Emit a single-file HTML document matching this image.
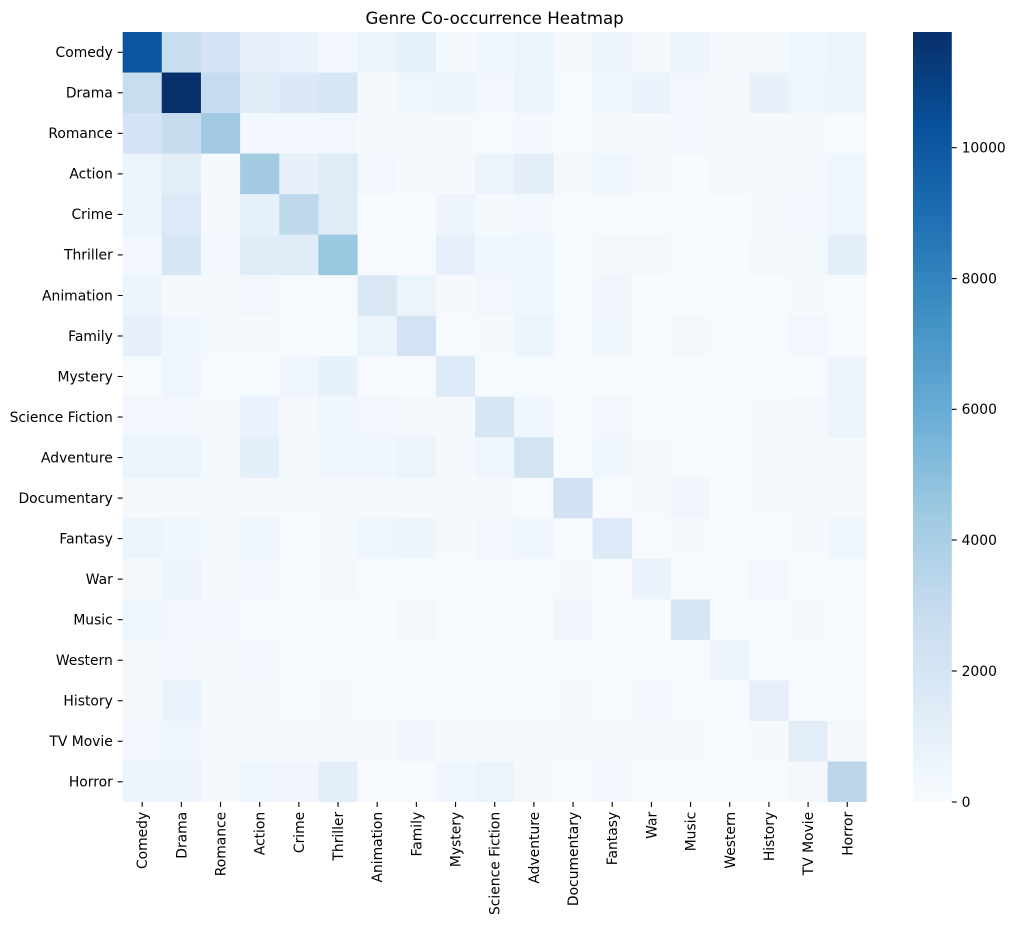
<!DOCTYPE html>
<html><head><meta charset="utf-8"><style>
html,body{margin:0;padding:0;background:#fff;}
svg{display:block;font-family:"DejaVu Sans","Liberation Sans",sans-serif;}
</style></head><body>
<svg width="1015" height="925" viewBox="0 0 1015 925" xmlns="http://www.w3.org/2000/svg">
<defs>
<linearGradient id="cb" x1="0" y1="1" x2="0" y2="0">
<stop offset="0" stop-color="#f7fbff"/><stop offset="0.125" stop-color="#deebf7"/><stop offset="0.25" stop-color="#c6dbef"/><stop offset="0.375" stop-color="#9ecae1"/><stop offset="0.5" stop-color="#6baed6"/><stop offset="0.625" stop-color="#4292c6"/><stop offset="0.75" stop-color="#2171b5"/><stop offset="0.875" stop-color="#08519c"/><stop offset="1" stop-color="#08306b"/>
</linearGradient>
</defs>
<rect width="1015" height="925" fill="#fff"/>
<text x="494.6" y="24" font-size="16.67" text-anchor="middle" fill="#000">Genre Co-occurrence Heatmap</text>
<svg x="122.6" y="32" width="744.2" height="770" viewBox="0 0 19 19" preserveAspectRatio="none">
<g transform="translate(0,0)"><rect x="0" width="1.01" height="1.01" fill="#0b559f"/><rect x="1" width="1.01" height="1.01" fill="#c9ddf0"/><rect x="2" width="1.01" height="1.01" fill="#d4e4f4"/><rect x="3" width="1.01" height="1.01" fill="#e8f1fa"/><rect x="4" width="1.01" height="1.01" fill="#eaf2fb"/><rect x="5" width="1.01" height="1.01" fill="#f2f7fd"/><rect x="6" width="1.01" height="1.01" fill="#ecf4fb"/><rect x="7" width="1.01" height="1.01" fill="#e6f0f9"/><rect x="8" width="1.01" height="1.01" fill="#f4f9fe"/><rect x="9" width="1.01" height="1.01" fill="#f0f6fd"/><rect x="10" width="1.01" height="1.01" fill="#ebf3fb"/><rect x="11" width="1.01" height="1.01" fill="#f5f9fe"/><rect x="12" width="1.01" height="1.01" fill="#edf4fc"/><rect x="13" width="1.01" height="1.01" fill="#f4f9fe"/><rect x="14" width="1.01" height="1.01" fill="#edf4fc"/><rect x="15" width="1.01" height="1.01" fill="#f4f9fe"/><rect x="16" width="1.01" height="1.01" fill="#f4f9fe"/><rect x="17" width="1.01" height="1.01" fill="#eff6fd"/><rect x="18" width="1.01" height="1.01" fill="#ebf3fb"/></g>
<g transform="translate(0,1)"><rect x="0" width="1.01" height="1.01" fill="#c9ddf0"/><rect x="1" width="1.01" height="1.01" fill="#08306b"/><rect x="2" width="1.01" height="1.01" fill="#c6dbef"/><rect x="3" width="1.01" height="1.01" fill="#e0ecf8"/><rect x="4" width="1.01" height="1.01" fill="#dbe9f6"/><rect x="5" width="1.01" height="1.01" fill="#d6e6f4"/><rect x="6" width="1.01" height="1.01" fill="#f5f9fe"/><rect x="7" width="1.01" height="1.01" fill="#eef5fc"/><rect x="8" width="1.01" height="1.01" fill="#edf4fc"/><rect x="9" width="1.01" height="1.01" fill="#f2f7fd"/><rect x="10" width="1.01" height="1.01" fill="#ebf3fb"/><rect x="11" width="1.01" height="1.01" fill="#f5fafe"/><rect x="12" width="1.01" height="1.01" fill="#f0f6fd"/><rect x="13" width="1.01" height="1.01" fill="#eaf3fb"/><rect x="14" width="1.01" height="1.01" fill="#f2f7fd"/><rect x="15" width="1.01" height="1.01" fill="#f5f8fd"/><rect x="16" width="1.01" height="1.01" fill="#e8f1fa"/><rect x="17" width="1.01" height="1.01" fill="#eef5fc"/><rect x="18" width="1.01" height="1.01" fill="#edf5fc"/></g>
<g transform="translate(0,2)"><rect x="0" width="1.01" height="1.01" fill="#d4e4f4"/><rect x="1" width="1.01" height="1.01" fill="#c8dcf0"/><rect x="2" width="1.01" height="1.01" fill="#a1cae2"/><rect x="3" width="1.01" height="1.01" fill="#f2f8fe"/><rect x="4" width="1.01" height="1.01" fill="#f3f8fe"/><rect x="5" width="1.01" height="1.01" fill="#f2f7fd"/><rect x="6" width="1.01" height="1.01" fill="#f4f9fe"/><rect x="7" width="1.01" height="1.01" fill="#f5f9fe"/><rect x="8" width="1.01" height="1.01" fill="#f4f9fe"/><rect x="9" width="1.01" height="1.01" fill="#f6fafe"/><rect x="10" width="1.01" height="1.01" fill="#f3f8fe"/><rect x="11" width="1.01" height="1.01" fill="#f6fafe"/><rect x="12" width="1.01" height="1.01" fill="#f4f9fe"/><rect x="13" width="1.01" height="1.01" fill="#f4f9fe"/><rect x="14" width="1.01" height="1.01" fill="#f2f7fd"/><rect x="15" width="1.01" height="1.01" fill="#f5f9fe"/><rect x="16" width="1.01" height="1.01" fill="#f5f9fe"/><rect x="17" width="1.01" height="1.01" fill="#f5f9fe"/><rect x="18" width="1.01" height="1.01" fill="#f5fafe"/></g>
<g transform="translate(0,3)"><rect x="0" width="1.01" height="1.01" fill="#ebf3fb"/><rect x="1" width="1.01" height="1.01" fill="#e2edf8"/><rect x="2" width="1.01" height="1.01" fill="#f5f9fe"/><rect x="3" width="1.01" height="1.01" fill="#a3cbe2"/><rect x="4" width="1.01" height="1.01" fill="#e8f1fa"/><rect x="5" width="1.01" height="1.01" fill="#dfebf7"/><rect x="6" width="1.01" height="1.01" fill="#f2f7fd"/><rect x="7" width="1.01" height="1.01" fill="#f4f9fe"/><rect x="8" width="1.01" height="1.01" fill="#f5f9fe"/><rect x="9" width="1.01" height="1.01" fill="#ebf3fb"/><rect x="10" width="1.01" height="1.01" fill="#e3eef8"/><rect x="11" width="1.01" height="1.01" fill="#f4f8fd"/><rect x="12" width="1.01" height="1.01" fill="#f0f6fd"/><rect x="13" width="1.01" height="1.01" fill="#f3f8fd"/><rect x="14" width="1.01" height="1.01" fill="#f6fafe"/><rect x="15" width="1.01" height="1.01" fill="#f3f7fb"/><rect x="16" width="1.01" height="1.01" fill="#f4f8fd"/><rect x="17" width="1.01" height="1.01" fill="#f3f8fd"/><rect x="18" width="1.01" height="1.01" fill="#f0f6fd"/></g>
<g transform="translate(0,4)"><rect x="0" width="1.01" height="1.01" fill="#ebf3fb"/><rect x="1" width="1.01" height="1.01" fill="#dce9f6"/><rect x="2" width="1.01" height="1.01" fill="#f4f9fe"/><rect x="3" width="1.01" height="1.01" fill="#e7f1fa"/><rect x="4" width="1.01" height="1.01" fill="#bed8ec"/><rect x="5" width="1.01" height="1.01" fill="#dfebf7"/><rect x="6" width="1.01" height="1.01" fill="#f6fafe"/><rect x="7" width="1.01" height="1.01" fill="#f6fafe"/><rect x="8" width="1.01" height="1.01" fill="#edf4fc"/><rect x="9" width="1.01" height="1.01" fill="#f4f9fe"/><rect x="10" width="1.01" height="1.01" fill="#f3f8fe"/><rect x="11" width="1.01" height="1.01" fill="#f5fafe"/><rect x="12" width="1.01" height="1.01" fill="#f5fafe"/><rect x="13" width="1.01" height="1.01" fill="#f5fafe"/><rect x="14" width="1.01" height="1.01" fill="#f5fafe"/><rect x="15" width="1.01" height="1.01" fill="#f5fafe"/><rect x="16" width="1.01" height="1.01" fill="#f4f9fe"/><rect x="17" width="1.01" height="1.01" fill="#f3f8fe"/><rect x="18" width="1.01" height="1.01" fill="#f0f6fd"/></g>
<g transform="translate(0,5)"><rect x="0" width="1.01" height="1.01" fill="#f2f7fd"/><rect x="1" width="1.01" height="1.01" fill="#d7e6f5"/><rect x="2" width="1.01" height="1.01" fill="#f3f8fe"/><rect x="3" width="1.01" height="1.01" fill="#e0ecf8"/><rect x="4" width="1.01" height="1.01" fill="#e0ecf8"/><rect x="5" width="1.01" height="1.01" fill="#9ac8e0"/><rect x="6" width="1.01" height="1.01" fill="#f6fafe"/><rect x="7" width="1.01" height="1.01" fill="#f6fafe"/><rect x="8" width="1.01" height="1.01" fill="#e7f0fa"/><rect x="9" width="1.01" height="1.01" fill="#f0f6fd"/><rect x="10" width="1.01" height="1.01" fill="#f0f6fd"/><rect x="11" width="1.01" height="1.01" fill="#f5fafe"/><rect x="12" width="1.01" height="1.01" fill="#f3f8fd"/><rect x="13" width="1.01" height="1.01" fill="#f4f8fd"/><rect x="14" width="1.01" height="1.01" fill="#f5fafe"/><rect x="15" width="1.01" height="1.01" fill="#f5fafe"/><rect x="16" width="1.01" height="1.01" fill="#f4f8fd"/><rect x="17" width="1.01" height="1.01" fill="#f3f8fd"/><rect x="18" width="1.01" height="1.01" fill="#e3eef8"/></g>
<g transform="translate(0,6)"><rect x="0" width="1.01" height="1.01" fill="#edf4fc"/><rect x="1" width="1.01" height="1.01" fill="#f5f9fe"/><rect x="2" width="1.01" height="1.01" fill="#f5f9fe"/><rect x="3" width="1.01" height="1.01" fill="#f2f7fd"/><rect x="4" width="1.01" height="1.01" fill="#f6fafe"/><rect x="5" width="1.01" height="1.01" fill="#f6fafe"/><rect x="6" width="1.01" height="1.01" fill="#dae8f5"/><rect x="7" width="1.01" height="1.01" fill="#ecf4fb"/><rect x="8" width="1.01" height="1.01" fill="#f5f9fe"/><rect x="9" width="1.01" height="1.01" fill="#f2f7fd"/><rect x="10" width="1.01" height="1.01" fill="#eff6fd"/><rect x="11" width="1.01" height="1.01" fill="#f5fafe"/><rect x="12" width="1.01" height="1.01" fill="#f0f6fc"/><rect x="13" width="1.01" height="1.01" fill="#f5fafe"/><rect x="14" width="1.01" height="1.01" fill="#f5fafe"/><rect x="15" width="1.01" height="1.01" fill="#f5fafe"/><rect x="16" width="1.01" height="1.01" fill="#f5fafe"/><rect x="17" width="1.01" height="1.01" fill="#f4f9fe"/><rect x="18" width="1.01" height="1.01" fill="#f5fafe"/></g>
<g transform="translate(0,7)"><rect x="0" width="1.01" height="1.01" fill="#e7f0fa"/><rect x="1" width="1.01" height="1.01" fill="#eff6fd"/><rect x="2" width="1.01" height="1.01" fill="#f4f9fe"/><rect x="3" width="1.01" height="1.01" fill="#f4f9fe"/><rect x="4" width="1.01" height="1.01" fill="#f6fafe"/><rect x="5" width="1.01" height="1.01" fill="#f6fafe"/><rect x="6" width="1.01" height="1.01" fill="#ecf4fb"/><rect x="7" width="1.01" height="1.01" fill="#d3e3f3"/><rect x="8" width="1.01" height="1.01" fill="#f6fafe"/><rect x="9" width="1.01" height="1.01" fill="#f5f9fe"/><rect x="10" width="1.01" height="1.01" fill="#ecf4fb"/><rect x="11" width="1.01" height="1.01" fill="#f6fafe"/><rect x="12" width="1.01" height="1.01" fill="#eff6fc"/><rect x="13" width="1.01" height="1.01" fill="#f6fafe"/><rect x="14" width="1.01" height="1.01" fill="#f4f8fd"/><rect x="15" width="1.01" height="1.01" fill="#f6fafe"/><rect x="16" width="1.01" height="1.01" fill="#f6fafe"/><rect x="17" width="1.01" height="1.01" fill="#f2f7fd"/><rect x="18" width="1.01" height="1.01" fill="#f6fafe"/></g>
<g transform="translate(0,8)"><rect x="0" width="1.01" height="1.01" fill="#f5fafe"/><rect x="1" width="1.01" height="1.01" fill="#eef5fc"/><rect x="2" width="1.01" height="1.01" fill="#f6fafe"/><rect x="3" width="1.01" height="1.01" fill="#f5fafe"/><rect x="4" width="1.01" height="1.01" fill="#eef5fc"/><rect x="5" width="1.01" height="1.01" fill="#e7f1fa"/><rect x="6" width="1.01" height="1.01" fill="#f6fafe"/><rect x="7" width="1.01" height="1.01" fill="#f6fafe"/><rect x="8" width="1.01" height="1.01" fill="#dce9f6"/><rect x="9" width="1.01" height="1.01" fill="#f5fafe"/><rect x="10" width="1.01" height="1.01" fill="#f5fafe"/><rect x="11" width="1.01" height="1.01" fill="#f5fafe"/><rect x="12" width="1.01" height="1.01" fill="#f5fafe"/><rect x="13" width="1.01" height="1.01" fill="#f6fafe"/><rect x="14" width="1.01" height="1.01" fill="#f6fafe"/><rect x="15" width="1.01" height="1.01" fill="#f6fafe"/><rect x="16" width="1.01" height="1.01" fill="#f5fafe"/><rect x="17" width="1.01" height="1.01" fill="#f5fafe"/><rect x="18" width="1.01" height="1.01" fill="#edf4fc"/></g>
<g transform="translate(0,9)"><rect x="0" width="1.01" height="1.01" fill="#f2f7fd"/><rect x="1" width="1.01" height="1.01" fill="#f2f7fd"/><rect x="2" width="1.01" height="1.01" fill="#f5f9fe"/><rect x="3" width="1.01" height="1.01" fill="#eaf3fb"/><rect x="4" width="1.01" height="1.01" fill="#f5f9fe"/><rect x="5" width="1.01" height="1.01" fill="#f0f6fd"/><rect x="6" width="1.01" height="1.01" fill="#f2f7fd"/><rect x="7" width="1.01" height="1.01" fill="#f4f8fd"/><rect x="8" width="1.01" height="1.01" fill="#f5f9fe"/><rect x="9" width="1.01" height="1.01" fill="#d6e6f4"/><rect x="10" width="1.01" height="1.01" fill="#eff6fd"/><rect x="11" width="1.01" height="1.01" fill="#f6fafe"/><rect x="12" width="1.01" height="1.01" fill="#f2f7fd"/><rect x="13" width="1.01" height="1.01" fill="#f6fafe"/><rect x="14" width="1.01" height="1.01" fill="#f6fafe"/><rect x="15" width="1.01" height="1.01" fill="#f6fafe"/><rect x="16" width="1.01" height="1.01" fill="#f5f8fd"/><rect x="17" width="1.01" height="1.01" fill="#f3f8fd"/><rect x="18" width="1.01" height="1.01" fill="#ebf3fb"/></g>
<g transform="translate(0,10)"><rect x="0" width="1.01" height="1.01" fill="#ebf3fb"/><rect x="1" width="1.01" height="1.01" fill="#ebf3fb"/><rect x="2" width="1.01" height="1.01" fill="#f3f8fd"/><rect x="3" width="1.01" height="1.01" fill="#e3eef8"/><rect x="4" width="1.01" height="1.01" fill="#f3f8fd"/><rect x="5" width="1.01" height="1.01" fill="#f0f6fd"/><rect x="6" width="1.01" height="1.01" fill="#eff6fd"/><rect x="7" width="1.01" height="1.01" fill="#ebf3fb"/><rect x="8" width="1.01" height="1.01" fill="#f5f9fe"/><rect x="9" width="1.01" height="1.01" fill="#eef5fc"/><rect x="10" width="1.01" height="1.01" fill="#d2e3f2"/><rect x="11" width="1.01" height="1.01" fill="#f6fafe"/><rect x="12" width="1.01" height="1.01" fill="#f0f7fc"/><rect x="13" width="1.01" height="1.01" fill="#f5f9fe"/><rect x="14" width="1.01" height="1.01" fill="#f6fafe"/><rect x="15" width="1.01" height="1.01" fill="#f5fafe"/><rect x="16" width="1.01" height="1.01" fill="#f4f9fe"/><rect x="17" width="1.01" height="1.01" fill="#f4f9fe"/><rect x="18" width="1.01" height="1.01" fill="#f4f9fe"/></g>
<g transform="translate(0,11)"><rect x="0" width="1.01" height="1.01" fill="#f3f8fd"/><rect x="1" width="1.01" height="1.01" fill="#f4f9fe"/><rect x="2" width="1.01" height="1.01" fill="#f5f9fe"/><rect x="3" width="1.01" height="1.01" fill="#f5f9fe"/><rect x="4" width="1.01" height="1.01" fill="#f5f9fe"/><rect x="5" width="1.01" height="1.01" fill="#f5f9fe"/><rect x="6" width="1.01" height="1.01" fill="#f5f9fe"/><rect x="7" width="1.01" height="1.01" fill="#f5f9fe"/><rect x="8" width="1.01" height="1.01" fill="#f5f9fe"/><rect x="9" width="1.01" height="1.01" fill="#f5f9fe"/><rect x="10" width="1.01" height="1.01" fill="#f6fafe"/><rect x="11" width="1.01" height="1.01" fill="#d2e2f2"/><rect x="12" width="1.01" height="1.01" fill="#f6fafe"/><rect x="13" width="1.01" height="1.01" fill="#f5f9fe"/><rect x="14" width="1.01" height="1.01" fill="#f1f6fd"/><rect x="15" width="1.01" height="1.01" fill="#f6fafe"/><rect x="16" width="1.01" height="1.01" fill="#f4f9fe"/><rect x="17" width="1.01" height="1.01" fill="#f5f9fe"/><rect x="18" width="1.01" height="1.01" fill="#f4f9fe"/></g>
<g transform="translate(0,12)"><rect x="0" width="1.01" height="1.01" fill="#ecf4fb"/><rect x="1" width="1.01" height="1.01" fill="#f0f6fd"/><rect x="2" width="1.01" height="1.01" fill="#f3f8fd"/><rect x="3" width="1.01" height="1.01" fill="#eff5fc"/><rect x="4" width="1.01" height="1.01" fill="#f6fafe"/><rect x="5" width="1.01" height="1.01" fill="#f3f8fd"/><rect x="6" width="1.01" height="1.01" fill="#eff5fc"/><rect x="7" width="1.01" height="1.01" fill="#edf5fa"/><rect x="8" width="1.01" height="1.01" fill="#f5f9fe"/><rect x="9" width="1.01" height="1.01" fill="#f2f7fd"/><rect x="10" width="1.01" height="1.01" fill="#f0f6fd"/><rect x="11" width="1.01" height="1.01" fill="#f6fafe"/><rect x="12" width="1.01" height="1.01" fill="#dde9f6"/><rect x="13" width="1.01" height="1.01" fill="#f6fafe"/><rect x="14" width="1.01" height="1.01" fill="#f4f9fe"/><rect x="15" width="1.01" height="1.01" fill="#f6fafe"/><rect x="16" width="1.01" height="1.01" fill="#f6fafe"/><rect x="17" width="1.01" height="1.01" fill="#f4f9fe"/><rect x="18" width="1.01" height="1.01" fill="#f0f6fd"/></g>
<g transform="translate(0,13)"><rect x="0" width="1.01" height="1.01" fill="#f4f9fe"/><rect x="1" width="1.01" height="1.01" fill="#edf4fc"/><rect x="2" width="1.01" height="1.01" fill="#f5f9fe"/><rect x="3" width="1.01" height="1.01" fill="#f2f7fd"/><rect x="4" width="1.01" height="1.01" fill="#f6fafe"/><rect x="5" width="1.01" height="1.01" fill="#f4f8fd"/><rect x="6" width="1.01" height="1.01" fill="#f6fafe"/><rect x="7" width="1.01" height="1.01" fill="#f6fafe"/><rect x="8" width="1.01" height="1.01" fill="#f6fafe"/><rect x="9" width="1.01" height="1.01" fill="#f6fafe"/><rect x="10" width="1.01" height="1.01" fill="#f5fafe"/><rect x="11" width="1.01" height="1.01" fill="#f4f9fe"/><rect x="12" width="1.01" height="1.01" fill="#f6fafe"/><rect x="13" width="1.01" height="1.01" fill="#eaf2fb"/><rect x="14" width="1.01" height="1.01" fill="#f6fafe"/><rect x="15" width="1.01" height="1.01" fill="#f6fafe"/><rect x="16" width="1.01" height="1.01" fill="#f2f7fd"/><rect x="17" width="1.01" height="1.01" fill="#f6fafe"/><rect x="18" width="1.01" height="1.01" fill="#f6fafe"/></g>
<g transform="translate(0,14)"><rect x="0" width="1.01" height="1.01" fill="#eef5fc"/><rect x="1" width="1.01" height="1.01" fill="#f2f7fd"/><rect x="2" width="1.01" height="1.01" fill="#f2f7fd"/><rect x="3" width="1.01" height="1.01" fill="#f6fafe"/><rect x="4" width="1.01" height="1.01" fill="#f6fafe"/><rect x="5" width="1.01" height="1.01" fill="#f6fafe"/><rect x="6" width="1.01" height="1.01" fill="#f5fafe"/><rect x="7" width="1.01" height="1.01" fill="#f3f8fd"/><rect x="8" width="1.01" height="1.01" fill="#f6fafe"/><rect x="9" width="1.01" height="1.01" fill="#f6fafe"/><rect x="10" width="1.01" height="1.01" fill="#f6fafe"/><rect x="11" width="1.01" height="1.01" fill="#f1f6fd"/><rect x="12" width="1.01" height="1.01" fill="#f6fafe"/><rect x="13" width="1.01" height="1.01" fill="#f6fafe"/><rect x="14" width="1.01" height="1.01" fill="#d6e6f4"/><rect x="15" width="1.01" height="1.01" fill="#f6fafe"/><rect x="16" width="1.01" height="1.01" fill="#f6fafe"/><rect x="17" width="1.01" height="1.01" fill="#f5f9fe"/><rect x="18" width="1.01" height="1.01" fill="#f6fafe"/></g>
<g transform="translate(0,15)"><rect x="0" width="1.01" height="1.01" fill="#f4f9fe"/><rect x="1" width="1.01" height="1.01" fill="#f3f8fe"/><rect x="2" width="1.01" height="1.01" fill="#f4f9fe"/><rect x="3" width="1.01" height="1.01" fill="#f2f7fd"/><rect x="4" width="1.01" height="1.01" fill="#f6fafe"/><rect x="5" width="1.01" height="1.01" fill="#f6fafe"/><rect x="6" width="1.01" height="1.01" fill="#f6fafe"/><rect x="7" width="1.01" height="1.01" fill="#f6fafe"/><rect x="8" width="1.01" height="1.01" fill="#f6fafe"/><rect x="9" width="1.01" height="1.01" fill="#f6fafe"/><rect x="10" width="1.01" height="1.01" fill="#f5fafe"/><rect x="11" width="1.01" height="1.01" fill="#f6fafe"/><rect x="12" width="1.01" height="1.01" fill="#f6fafe"/><rect x="13" width="1.01" height="1.01" fill="#f6fafe"/><rect x="14" width="1.01" height="1.01" fill="#f6fafe"/><rect x="15" width="1.01" height="1.01" fill="#edf4fb"/><rect x="16" width="1.01" height="1.01" fill="#f6fafe"/><rect x="17" width="1.01" height="1.01" fill="#f6fafe"/><rect x="18" width="1.01" height="1.01" fill="#f6fafe"/></g>
<g transform="translate(0,16)"><rect x="0" width="1.01" height="1.01" fill="#f5f9fe"/><rect x="1" width="1.01" height="1.01" fill="#e9f2fb"/><rect x="2" width="1.01" height="1.01" fill="#f5f9fe"/><rect x="3" width="1.01" height="1.01" fill="#f5f9fe"/><rect x="4" width="1.01" height="1.01" fill="#f6fafe"/><rect x="5" width="1.01" height="1.01" fill="#f4f9fe"/><rect x="6" width="1.01" height="1.01" fill="#f6fafe"/><rect x="7" width="1.01" height="1.01" fill="#f6fafe"/><rect x="8" width="1.01" height="1.01" fill="#f6fafe"/><rect x="9" width="1.01" height="1.01" fill="#f6fafe"/><rect x="10" width="1.01" height="1.01" fill="#f6fafe"/><rect x="11" width="1.01" height="1.01" fill="#f5f9fe"/><rect x="12" width="1.01" height="1.01" fill="#f6fafe"/><rect x="13" width="1.01" height="1.01" fill="#f3f8fe"/><rect x="14" width="1.01" height="1.01" fill="#f6fafe"/><rect x="15" width="1.01" height="1.01" fill="#f6fafe"/><rect x="16" width="1.01" height="1.01" fill="#e6eff9"/><rect x="17" width="1.01" height="1.01" fill="#f6fafe"/><rect x="18" width="1.01" height="1.01" fill="#f6fafe"/></g>
<g transform="translate(0,17)"><rect x="0" width="1.01" height="1.01" fill="#f1f7fd"/><rect x="1" width="1.01" height="1.01" fill="#eef5fc"/><rect x="2" width="1.01" height="1.01" fill="#f5f9fe"/><rect x="3" width="1.01" height="1.01" fill="#f4f9fe"/><rect x="4" width="1.01" height="1.01" fill="#f4f9fe"/><rect x="5" width="1.01" height="1.01" fill="#f4f9fe"/><rect x="6" width="1.01" height="1.01" fill="#f5f9fe"/><rect x="7" width="1.01" height="1.01" fill="#f1f6fd"/><rect x="8" width="1.01" height="1.01" fill="#f4f9fe"/><rect x="9" width="1.01" height="1.01" fill="#f4f8fd"/><rect x="10" width="1.01" height="1.01" fill="#f4f8fd"/><rect x="11" width="1.01" height="1.01" fill="#f4f9fe"/><rect x="12" width="1.01" height="1.01" fill="#f5f9fe"/><rect x="13" width="1.01" height="1.01" fill="#f5f9fe"/><rect x="14" width="1.01" height="1.01" fill="#f5f9fe"/><rect x="15" width="1.01" height="1.01" fill="#f6fafe"/><rect x="16" width="1.01" height="1.01" fill="#f5f8fd"/><rect x="17" width="1.01" height="1.01" fill="#e2edf8"/><rect x="18" width="1.01" height="1.01" fill="#f4f8fd"/></g>
<g transform="translate(0,18)"><rect x="0" width="1.01" height="1" fill="#edf4fc"/><rect x="1" width="1.01" height="1" fill="#edf4fc"/><rect x="2" width="1.01" height="1" fill="#f5f9fe"/><rect x="3" width="1.01" height="1" fill="#f0f6fd"/><rect x="4" width="1.01" height="1" fill="#f1f6fd"/><rect x="5" width="1.01" height="1" fill="#e3eef8"/><rect x="6" width="1.01" height="1" fill="#f6fafe"/><rect x="7" width="1.01" height="1" fill="#f6fafe"/><rect x="8" width="1.01" height="1" fill="#eff6fd"/><rect x="9" width="1.01" height="1" fill="#ecf4fb"/><rect x="10" width="1.01" height="1" fill="#f3f8fd"/><rect x="11" width="1.01" height="1" fill="#f6fafe"/><rect x="12" width="1.01" height="1" fill="#f2f7fd"/><rect x="13" width="1.01" height="1" fill="#f6fafe"/><rect x="14" width="1.01" height="1" fill="#f6fafe"/><rect x="15" width="1.01" height="1" fill="#f6fafe"/><rect x="16" width="1.01" height="1" fill="#f6fafe"/><rect x="17" width="1.01" height="1" fill="#f4f8fd"/><rect x="18" width="1" height="1" fill="#bbd6eb"/></g>
</svg>
<!-- y ticks -->
<g stroke="#000" stroke-width="1.1">
<line x1="117.7" x2="122.6" y1="52.27" y2="52.27"/><line x1="117.7" x2="122.6" y1="92.8" y2="92.8"/><line x1="117.7" x2="122.6" y1="133.33" y2="133.33"/><line x1="117.7" x2="122.6" y1="173.86" y2="173.86"/><line x1="117.7" x2="122.6" y1="214.39" y2="214.39"/><line x1="117.7" x2="122.6" y1="254.92" y2="254.92"/><line x1="117.7" x2="122.6" y1="295.45" y2="295.45"/><line x1="117.7" x2="122.6" y1="335.98" y2="335.98"/><line x1="117.7" x2="122.6" y1="376.51" y2="376.51"/><line x1="117.7" x2="122.6" y1="417.04" y2="417.04"/><line x1="117.7" x2="122.6" y1="457.57" y2="457.57"/><line x1="117.7" x2="122.6" y1="498.1" y2="498.1"/><line x1="117.7" x2="122.6" y1="538.63" y2="538.63"/><line x1="117.7" x2="122.6" y1="579.16" y2="579.16"/><line x1="117.7" x2="122.6" y1="619.69" y2="619.69"/><line x1="117.7" x2="122.6" y1="660.22" y2="660.22"/><line x1="117.7" x2="122.6" y1="700.75" y2="700.75"/><line x1="117.7" x2="122.6" y1="741.28" y2="741.28"/><line x1="117.7" x2="122.6" y1="781.81" y2="781.81"/>
</g>
<g font-size="13.89" text-anchor="end" fill="#000">
<text x="112.8" y="57.1">Comedy</text><text x="112.8" y="97.6">Drama</text><text x="112.8" y="138.1">Romance</text><text x="112.8" y="178.7">Action</text><text x="112.8" y="219.2">Crime</text><text x="112.8" y="259.7">Thriller</text><text x="112.8" y="300.3">Animation</text><text x="112.8" y="340.8">Family</text><text x="112.8" y="381.3">Mystery</text><text x="112.8" y="421.8">Science Fiction</text><text x="112.8" y="462.4">Adventure</text><text x="112.8" y="502.9">Documentary</text><text x="112.8" y="543.4">Fantasy</text><text x="112.8" y="584">War</text><text x="112.8" y="624.5">Music</text><text x="112.8" y="665">Western</text><text x="112.8" y="705.6">History</text><text x="112.8" y="746.1">TV Movie</text><text x="112.8" y="786.6">Horror</text>
</g>
<!-- x ticks -->
<g stroke="#000" stroke-width="1.1">
<line y1="802" y2="806.9" x1="142.19" x2="142.19"/><line y1="802" y2="806.9" x1="181.36" x2="181.36"/><line y1="802" y2="806.9" x1="220.53" x2="220.53"/><line y1="802" y2="806.9" x1="259.7" x2="259.7"/><line y1="802" y2="806.9" x1="298.87" x2="298.87"/><line y1="802" y2="806.9" x1="338.04" x2="338.04"/><line y1="802" y2="806.9" x1="377.21" x2="377.21"/><line y1="802" y2="806.9" x1="416.38" x2="416.38"/><line y1="802" y2="806.9" x1="455.55" x2="455.55"/><line y1="802" y2="806.9" x1="494.72" x2="494.72"/><line y1="802" y2="806.9" x1="533.89" x2="533.89"/><line y1="802" y2="806.9" x1="573.06" x2="573.06"/><line y1="802" y2="806.9" x1="612.23" x2="612.23"/><line y1="802" y2="806.9" x1="651.4" x2="651.4"/><line y1="802" y2="806.9" x1="690.57" x2="690.57"/><line y1="802" y2="806.9" x1="729.74" x2="729.74"/><line y1="802" y2="806.9" x1="768.91" x2="768.91"/><line y1="802" y2="806.9" x1="808.08" x2="808.08"/><line y1="802" y2="806.9" x1="847.25" x2="847.25"/>
</g>
<g font-size="13.89" text-anchor="end" fill="#000">
<text transform="translate(142.19,811.8) rotate(-90)" dy="0.36em">Comedy</text>
<text transform="translate(181.36,811.8) rotate(-90)" dy="0.36em">Drama</text>
<text transform="translate(220.53,811.8) rotate(-90)" dy="0.36em">Romance</text>
<text transform="translate(259.7,811.8) rotate(-90)" dy="0.36em">Action</text>
<text transform="translate(298.87,811.8) rotate(-90)" dy="0.36em">Crime</text>
<text transform="translate(338.04,811.8) rotate(-90)" dy="0.36em">Thriller</text>
<text transform="translate(377.21,811.8) rotate(-90)" dy="0.36em">Animation</text>
<text transform="translate(416.38,811.8) rotate(-90)" dy="0.36em">Family</text>
<text transform="translate(455.55,811.8) rotate(-90)" dy="0.36em">Mystery</text>
<text transform="translate(494.72,811.8) rotate(-90)" dy="0.36em">Science Fiction</text>
<text transform="translate(533.89,811.8) rotate(-90)" dy="0.36em">Adventure</text>
<text transform="translate(573.06,811.8) rotate(-90)" dy="0.36em">Documentary</text>
<text transform="translate(612.23,811.8) rotate(-90)" dy="0.36em">Fantasy</text>
<text transform="translate(651.4,811.8) rotate(-90)" dy="0.36em">War</text>
<text transform="translate(690.57,811.8) rotate(-90)" dy="0.36em">Music</text>
<text transform="translate(729.74,811.8) rotate(-90)" dy="0.36em">Western</text>
<text transform="translate(768.91,811.8) rotate(-90)" dy="0.36em">History</text>
<text transform="translate(808.08,811.8) rotate(-90)" dy="0.36em">TV Movie</text>
<text transform="translate(847.25,811.8) rotate(-90)" dy="0.36em">Horror</text>
</g>
<!-- colorbar -->
<rect x="913" y="32" width="38.8" height="770" fill="url(#cb)"/>
<g stroke="#000" stroke-width="1.1">
<line x1="951.8" x2="956.7" y1="802" y2="802"/><line x1="951.8" x2="956.7" y1="671" y2="671"/><line x1="951.8" x2="956.7" y1="540" y2="540"/><line x1="951.8" x2="956.7" y1="409.3" y2="409.3"/><line x1="951.8" x2="956.7" y1="278.6" y2="278.6"/><line x1="951.8" x2="956.7" y1="147.7" y2="147.7"/>
</g>
<g font-size="13.89" fill="#000">
<text x="961.6" y="807">0</text><text x="961.6" y="676">2000</text><text x="961.6" y="545">4000</text><text x="961.6" y="414.2">6000</text><text x="961.6" y="283.5">8000</text><text x="961.6" y="152.6">10000</text>
</g>
</svg>
</body></html>
